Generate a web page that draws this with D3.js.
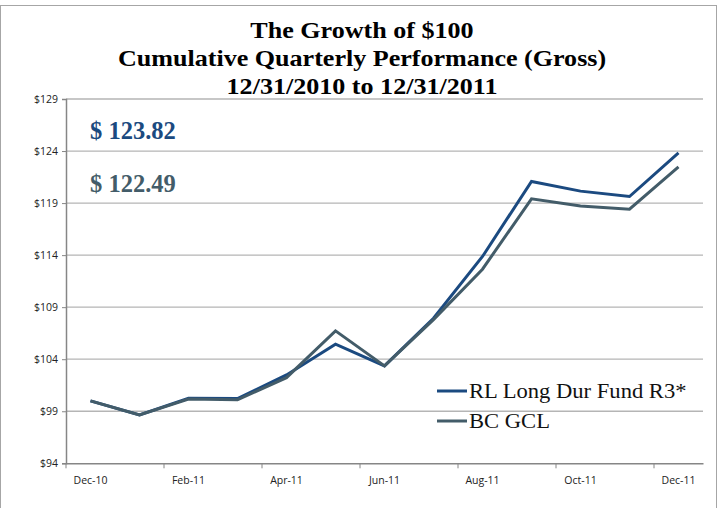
<!DOCTYPE html>
<html>
<head>
<meta charset="utf-8">
<script src="https://cdn.jsdelivr.net/npm/d3@7"></script>
<style>
  body { margin: 0; background: #fff; }
  svg { display: block; }
  .axis text { font-family: "Open Sans", "Noto Sans", sans-serif; font-size: 10.5px; fill: #222; }
</style>
</head>
<body>
<div id="chart-area"></div>
<script>
// chart data
const months = ["Dec-10", "Jan-11", "Feb-11", "Mar-11", "Apr-11", "May-11", "Jun-11",
                "Jul-11", "Aug-11", "Sep-11", "Oct-11", "Nov-11", "Dec-11"];
const fundValues = [100, 98.64, 100.25, 100.22, 102.49, 105.44, 103.36, 107.94, 113.87, 121.08, 120.15, 119.63, 123.82];
const indexValues = [100, 98.64, 100.18, 100.10, 102.23, 106.72, 103.36, 107.80, 112.65, 119.41, 118.71, 118.42, 122.49];
const seriesNames = ["RL Long Dur Fund R3*", "BC GCL"];
const yTicks = [94, 99, 104, 109, 114, 119, 124, 129];
const titleLines = ["The Growth of $100", "Cumulative Quarterly Performance (Gross)", "12/31/2010 to 12/31/2011"];
const endLabels = ["$ 123.82", "$ 122.49"];

const colors = ["#1b4a80", "#435c69"];
const serif = "'Liberation Serif', 'Times New Roman', serif";

const svg = d3.select('#chart-area')
    .append('svg')
    .attr('width', 721)
    .attr('height', 508);

// outer border
svg.append("rect")
    .attr("x", 0.5).attr("y", 5.5)
    .attr("width", 716).attr("height", 510)
    .attr("fill", "none")
    .attr("stroke", "#a6a6a6");

// scales
const x = d3.scaleBand()
    .domain(months)
    .range([66, 703])
    .padding(0);

const y = d3.scaleLinear()
    .domain([94, 129])
    .range([463.3, 99]);

// gridlines
svg.append("g")
    .selectAll("line")
    .data(yTicks.slice(1))
    .join("line")
    .attr("x1", 66).attr("x2", 703)
    .attr("y1", d => y(d)).attr("y2", d => y(d))
    .attr("stroke", "#b5b5b5")
    .attr("stroke-width", 1.3);

// y axis
const yAxisGroup = svg.append("g")
    .attr("class", "axis")
    .attr("transform", "translate(66,0)")
    .call(d3.axisLeft(y).tickValues(yTicks).tickSize(4).tickPadding(4).tickFormat(d => "$" + d));
yAxisGroup.select(".domain").attr("stroke", "#868686").attr("stroke-width", 1.5);
yAxisGroup.selectAll(".tick line").attr("stroke", "#868686");

// x axis
const xAxisGroup = svg.append("g")
    .attr("class", "axis")
    .attr("transform", "translate(0,463.3)")
    .call(d3.axisBottom(x)
        .tickValues(months.filter((d, i) => i % 2 === 0))
        .tickSize(0).tickSizeOuter(0).tickPadding(13));
xAxisGroup.select(".domain").attr("stroke", "#868686").attr("stroke-width", 1.5);

// x tick marks sit on category boundaries, every second one
xAxisGroup.selectAll(".tickmark")
    .data(months.filter((d, i) => i % 2 === 0))
    .join("line")
    .attr("class", "tickmark")
    .attr("x1", d => x(d)).attr("x2", d => x(d))
    .attr("y1", 0).attr("y2", 5)
    .attr("stroke", "#868686");

// lines
const line = d3.line()
    .x((d, i) => x(months[i]) + x.bandwidth() / 2)
    .y(d => y(d));

[fundValues, indexValues].forEach((vals, k) => {
    svg.append("path")
        .datum(vals)
        .attr("d", line)
        .attr("fill", "none")
        .attr("stroke", colors[k])
        .attr("stroke-width", 3)
        .attr("stroke-linejoin", "miter");
});

// title (the original type is stretched a little sideways)
svg.append("g")
    .selectAll("text")
    .data(titleLines)
    .join("text")
    .attr("transform", (d, i) => "translate(362," + (38 + i * 28) + ") scale(1.11,1)")
    .attr("text-anchor", "middle")
    .style("font-family", serif)
    .style("font-weight", "bold")
    .style("font-size", "23.5px")
    .text(d => d);

// ending values
svg.append("g")
    .selectAll("text")
    .data(endLabels)
    .join("text")
    .attr("x", 90)
    .attr("y", (d, i) => 139 + i * 53)
    .style("font-family", serif)
    .style("font-weight", "bold")
    .style("font-size", "24.5px")
    .attr("fill", (d, i) => colors[i])
    .text(d => d);

// legend
const legend = svg.append("g")
    .selectAll("g")
    .data(seriesNames)
    .join("g")
    .attr("transform", (d, i) => "translate(437," + (391 + i * 30) + ")");

legend.append("line")
    .attr("x1", 0).attr("x2", 30)
    .attr("stroke", (d, i) => colors[i])
    .attr("stroke-width", 3);

legend.append("text")
    .attr("transform", "translate(32,7) scale(1.13,1)")
    .style("font-family", serif)
    .style("font-size", "20px")
    .attr("fill", "#111")
    .text(d => d);
</script>
</body>
</html>
